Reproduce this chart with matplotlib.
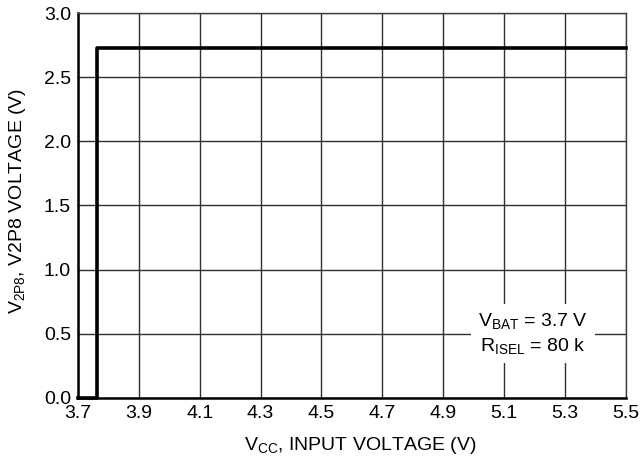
import matplotlib
matplotlib.use("Agg")
import matplotlib.pyplot as plt

plt.rcParams["font.family"] = ["Liberation Sans", "DejaVu Sans"]
plt.rcParams["mathtext.default"] = "regular"

# --- V2P8 output vs input voltage ---
vcc = [3.70, 3.763, 5.50]
v2p8 = [0.0, 2.73, 2.73]

x_ticks = [3.7, 3.9, 4.1, 4.3, 4.5, 4.7, 4.9, 5.1, 5.3, 5.5]
y_ticks = [0.0, 0.5, 1.0, 1.5, 2.0, 2.5, 3.0]

FS = 14

fig = plt.figure(figsize=(6.44, 4.67), dpi=100)
ax = fig.add_axes([0.121, 0.148, 0.851, 0.824])

ax.plot(vcc, v2p8, drawstyle="steps-post", color="black", linewidth=2.6,
        clip_on=False, zorder=3)

ax.set_xlim(3.7, 5.5)
ax.set_ylim(0, 3.0)
ax.set_xticks(x_ticks)
ax.set_yticks(y_ticks)
ax.set_xticklabels([f"{t:.1f}" for t in x_ticks], fontsize=FS)
ax.set_yticklabels([f"{t:.1f}" for t in y_ticks], fontsize=FS)
ax.tick_params(length=0)
ax.tick_params(axis="x", pad=5)
ax.tick_params(axis="y", pad=5)
ax.grid(True, color="#303030", linewidth=1.0)

for side in ["left", "bottom"]:
    ax.spines[side].set_linewidth(1.8)
for side in ["top", "right"]:
    ax.spines[side].set_linewidth(1.0)
    ax.spines[side].set_color("#404040")

ax.set_xlabel("V$_{CC}$, INPUT VOLTAGE (V)", fontsize=FS)
ax.set_ylabel("V$_{2P8}$, V2P8 VOLTAGE (V)", fontsize=FS)
ax.xaxis.set_label_coords(0.516, -0.097)
ax.yaxis.set_label_coords(-0.092, 0.512)

ax.text(5.195, 0.50, "V$_{BAT}$ = 3.7 V\nR$_{ISEL}$ = 80 k", fontsize=FS,
        ha="center", va="center", linespacing=1.3, zorder=4,
        bbox=dict(facecolor="white", edgecolor="none", pad=5))

fig.savefig("out.png", dpi=100)
